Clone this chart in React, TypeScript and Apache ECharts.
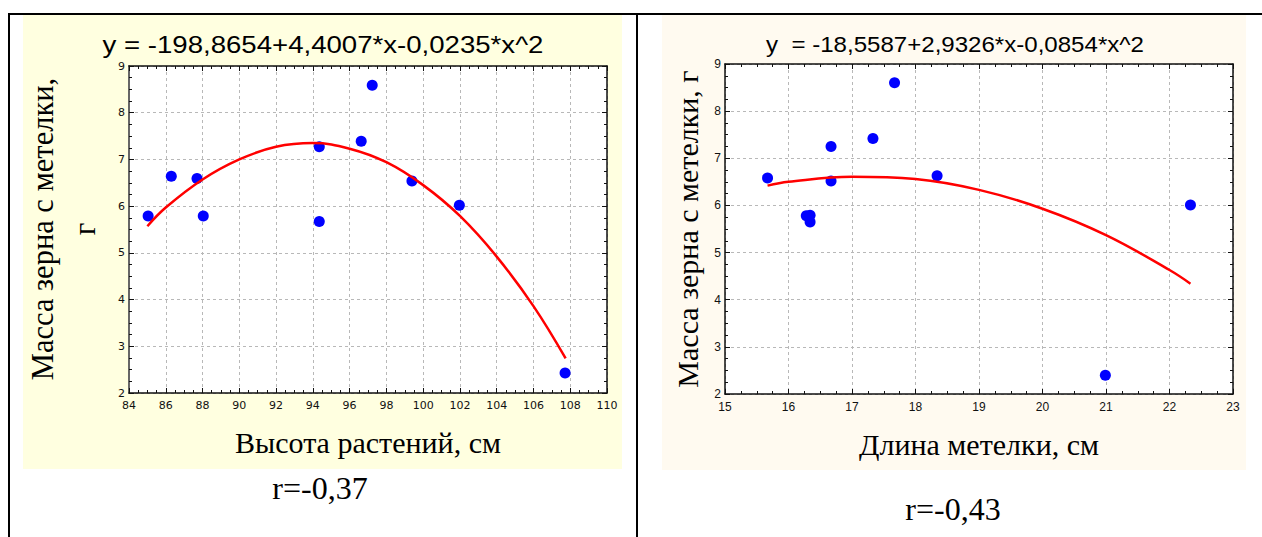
import React, { useEffect, useRef } from "react";
import * as echarts from "echarts";

// Left panel: plant height (cm) vs grain mass per panicle (g)
const heightX = [85.04, 86.3, 87.7, 88.04, 94.35, 94.35, 96.63, 97.23, 99.39, 101.97, 107.72];
const heightY = [5.79, 6.64, 6.59, 5.79, 7.27, 5.67, 7.39, 8.59, 6.54, 6.02, 2.43];
// fitted curve
const heightFitX = [85.0, 86, 88, 90, 92, 94, 96, 98, 100, 102, 104, 106, 107.75];
const heightFitY = [5.57, 5.97, 6.57, 7.0, 7.27, 7.35, 7.23, 6.94, 6.45, 5.79, 4.92, 3.86, 2.74];

// Right panel: panicle length (cm) vs grain mass per panicle (g)
const panicleX = [15.67, 16.28, 16.34, 16.34, 16.67, 16.67, 17.33, 17.67, 18.34, 20.99, 22.33];
const panicleY = [6.58, 5.78, 5.79, 5.65, 7.25, 6.52, 7.42, 8.6, 6.63, 2.4, 6.01];
const panicleFitX = [15.67, 16, 17, 18, 19, 20, 21, 22, 22.33];
const panicleFitY = [6.42, 6.5, 6.61, 6.56, 6.33, 5.93, 5.37, 4.63, 4.34];

const leftTitle = "y = -198,8654+4,4007*x-0,0235*x^2";
const rightTitle = "y  = -18,5587+2,9326*x-0,0854*x^2";
const leftXName = "Высота растений, см";
const rightXName = "Длина метелки, см";
const leftYName = "Масса зерна с метелки,\nг";
const rightYName = "Масса зерна с метелки, г";
const leftR = "r=-0,37";
const rightR = "r=-0,43";

const zip = (a: number[], b: number[]) => a.map((v, i) => [v, b[i]]);

const SERIF = '"Liberation Serif", "Times New Roman", serif';
const SANS = '"Liberation Sans", Arial, sans-serif';

function makeX(grid: number, min: number, max: number, interval: number, pos: "bottom" | "top", font: any) {
  const isMain = pos === "bottom";
  return {
    type: "value",
    gridIndex: grid,
    position: pos,
    min,
    max,
    interval,
    axisLine: { show: true, onZero: false, lineStyle: { color: "#111", width: 1.5 } },
    axisTick: { show: true, inside: true, length: 5, lineStyle: { color: "#111" } },
    minorTick: { show: true, splitNumber: 4, length: 3, lineStyle: { color: "#111" } },
    axisLabel: { show: isMain, color: "#111", margin: 7, ...font },
    splitLine: { show: isMain, lineStyle: { color: "#b8b8b8", type: [3, 3], width: 1 } },
  };
}

function makeY(grid: number, min: number, max: number, interval: number, pos: "left" | "right", font: any, leftColor: string, leftWidth: number) {
  const isMain = pos === "left";
  return {
    type: "value",
    gridIndex: grid,
    position: pos,
    min,
    max,
    interval,
    axisLine: { show: true, onZero: false, lineStyle: { color: isMain ? leftColor : "#111", width: isMain ? leftWidth : 1.5 } },
    axisTick: { show: true, inside: true, length: 5, lineStyle: { color: "#111" } },
    minorTick: { show: true, splitNumber: 4, length: 3, lineStyle: { color: "#111" } },
    axisLabel: { show: isMain, color: "#111", margin: 4, ...font },
    splitLine: { show: isMain, lineStyle: { color: "#b8b8b8", type: [3, 3], width: 1 } },
  };
}

function txt(x: number, y: number, text: string, font: string, extra: any = {}) {
  return {
    type: "text",
    x,
    y,
    z: 100,
    ...extra,
    style: {
      text,
      font,
      fill: "#000",
      align: "center",
      textAlign: "center",
      verticalAlign: "middle",
      textVerticalAlign: "middle",
      ...(extra.style || {}),
    },
  };
}

export default function App() {
  const ref = useRef<HTMLDivElement>(null);
  useEffect(() => {
    if (!ref.current) return;
    const chart = echarts.init(ref.current, null, { renderer: "svg" });
    const leftFont = { fontFamily: '"DejaVu Sans", sans-serif', fontSize: 11 };
    const rightFont = { fontFamily: SANS, fontSize: 12 };
    chart.setOption({
      animation: false,
      backgroundColor: "#ffffff",
      grid: [
        { left: 129, top: 66, width: 478, height: 327, show: true, backgroundColor: "#ffffff", borderWidth: 0 },
        { left: 725, top: 64, width: 508, height: 330, show: true, backgroundColor: "#ffffff", borderWidth: 0 },
      ],
      xAxis: [
        makeX(0, 84, 110, 2, "bottom", leftFont),
        makeX(0, 84, 110, 2, "top", leftFont),
        makeX(1, 15, 23, 1, "bottom", rightFont),
        makeX(1, 15, 23, 1, "top", rightFont),
      ],
      yAxis: [
        makeY(0, 2, 9, 1, "left", leftFont, "#666", 2),
        makeY(0, 2, 9, 1, "right", leftFont, "#666", 2),
        makeY(1, 2, 9, 1, "left", rightFont, "#111", 1.5),
        makeY(1, 2, 9, 1, "right", rightFont, "#111", 1.5),
      ],
      series: [
        {
          type: "scatter",
          xAxisIndex: 0,
          yAxisIndex: 0,
          data: zip(heightX, heightY),
          symbolSize: 11,
          itemStyle: { color: "#0000ff", opacity: 1 },
          z: 3,
        },
        {
          type: "line",
          xAxisIndex: 0,
          yAxisIndex: 0,
          data: zip(heightFitX, heightFitY),
          smooth: 0.4,
          showSymbol: false,
          lineStyle: { color: "#ff0000", width: 2.5 },
          z: 4,
        },
        {
          type: "scatter",
          xAxisIndex: 2,
          yAxisIndex: 2,
          data: zip(panicleX, panicleY),
          symbolSize: 11,
          itemStyle: { color: "#0000ff", opacity: 1 },
          z: 3,
        },
        {
          type: "line",
          xAxisIndex: 2,
          yAxisIndex: 2,
          data: zip(panicleFitX, panicleFitY),
          smooth: 0.4,
          showSymbol: false,
          lineStyle: { color: "#ff0000", width: 2.5 },
          z: 4,
        },
      ],
      graphic: {
        elements: [
          { type: "rect", z: -100, shape: { x: 23, y: 15, width: 599, height: 454 }, style: { fill: "#ffffe0" } },
          { type: "rect", z: -100, shape: { x: 662, y: 15, width: 584, height: 455 }, style: { fill: "#fffaf0" } },
          { type: "line", z: 100, shape: { x1: 8, y1: 14, x2: 1262, y2: 14 }, style: { stroke: "#000", lineWidth: 2 } },
          { type: "line", z: 100, shape: { x1: 9, y1: 13, x2: 9, y2: 537 }, style: { stroke: "#000", lineWidth: 2 } },
          { type: "line", z: 100, shape: { x1: 637, y1: 13, x2: 637, y2: 537 }, style: { stroke: "#000", lineWidth: 2 } },
          txt(323, 45, leftTitle, `23px ${SANS}`, { scaleX: 1.2 }),
          txt(955, 44.5, rightTitle, `22px ${SANS}`, { scaleX: 1.095 }),
          txt(64, 229, leftYName, `30.5px ${SERIF}`, { rotation: Math.PI / 2, style: { lineHeight: 42 } }),
          txt(687, 229, rightYName, `30px ${SERIF}`, { rotation: Math.PI / 2 }),
          txt(368, 442, leftXName, `30px ${SERIF}`),
          txt(979, 444, rightXName, `30px ${SERIF}`),
          txt(320, 488, leftR, `32px ${SERIF}`),
          txt(953, 509, rightR, `32px ${SERIF}`),
        ],
      },
    });
    return () => chart.dispose();
  }, []);
  return (
    <div
      ref={ref}
      style={{ position: "absolute", left: 0, top: 0, width: 1262, height: 537 }}
    />
  );
}
